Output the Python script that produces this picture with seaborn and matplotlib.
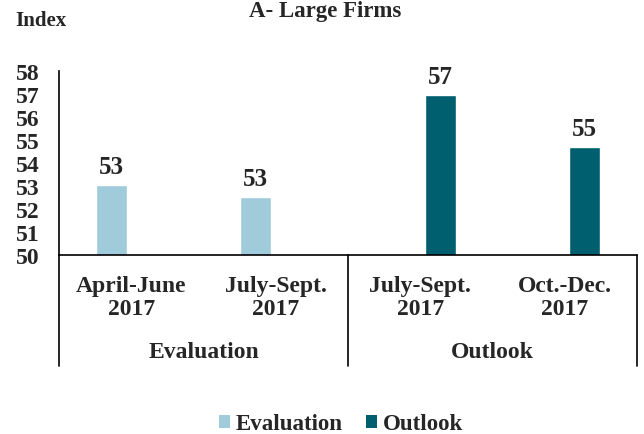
import numpy as np
import pandas as pd
import matplotlib
matplotlib.use("Agg")
import matplotlib.pyplot as plt
import matplotlib.transforms as mtransforms
from matplotlib.patches import Patch
import seaborn as sns

# ---- data ----
categories = ["April-June\n2017", "July-Sept.\n2017", "July-Sept. \n2017", "Oct.-Dec.\n2017"]
series = ["Evaluation", "Evaluation", "Outlook", "Outlook"]
values = [53.04, 52.53, 56.97, 54.68]
groups = ["Evaluation", "Outlook"]
group_spans = [(0, 1), (2, 3)]
colors = {"Evaluation": "#A0CBDB", "Outlook": "#005F6E"}
yticks = list(range(50, 59))

df = pd.DataFrame({"category": categories, "series": series, "value": values})

sns.set_theme(style="white")
plt.rcParams["font.family"] = ["Liberation Serif", "DejaVu Serif"]
plt.rcParams["font.weight"] = "bold"

W, H = 644, 435
fig = plt.figure(figsize=(W / 100, H / 100), dpi=100)
ax = fig.add_axes([59 / W, 1 - 256 / H, (637 - 59) / W, (256 - 72) / H])

sns.barplot(data=df, x="category", y="value", hue="series", order=categories,
            hue_order=groups, palette=colors, dodge=True, width=0.553, gap=0.22,
            errorbar=None, legend=False, ax=ax, saturation=1)

ax.set_ylim(50, 58)
ax.set_xlim(-0.5, 3.5)
ax.set_yticks(yticks)
ax.set_yticklabels([str(t) for t in yticks], fontsize=17, fontweight="bold")
ax.tick_params(axis="y", length=0, pad=14)
ax.set_xticks([])
ax.set_xlabel("")
ax.set_ylabel("")
for s in ["top", "right"]:
    ax.spines[s].set_visible(False)
for s in ["left", "bottom"]:
    ax.spines[s].set_color("black")
    ax.spines[s].set_linewidth(1.2)

for cont in ax.containers:
    ax.bar_label(cont, fmt="{:.0f}", padding=5, fontsize=18, fontweight="bold")

# multi-level category axis
trans = mtransforms.blended_transform_factory(ax.transData, fig.transFigure)
y_top = 1 - 256 / H
y_bot = 1 - 367 / H
for xv in [-0.5, 1.5, 3.5]:
    ax.plot([xv, xv], [y_top, y_bot], color="black", lw=1.2, transform=trans, clip_on=False)
for i, c in enumerate(categories):
    ax.text(i, 1 - 298 / H, c.strip().replace(" \n", "\n"), transform=trans, ha="center", va="center",
            fontsize=17, fontweight="bold", linespacing=1.1)
for g, (a, b) in zip(groups, group_spans):
    ax.text((a + b) / 2, 1 - 353 / H, g, transform=trans, ha="center", va="center",
            fontsize=17, fontweight="bold")

fig.text(325 / W, 1 - 11 / H, "A- Large Firms", ha="center", va="center",
         fontsize=16.5, fontweight="bold")
fig.text(15 / W, 1 - 21 / H, "Index", ha="left", va="center",
         fontsize=15, fontweight="bold")

handles = [Patch(facecolor=colors[g], edgecolor="none", label=g) for g in groups]
fig.legend(handles=handles, loc="center", bbox_to_anchor=(341 / W, 1 - 425 / H),
           ncol=2, frameon=False, handlelength=0.5, handleheight=0.5,
           handletextpad=0.25, columnspacing=1.0, prop={"weight": "bold", "size": 16.5})

fig.savefig("out.png", dpi=100)
